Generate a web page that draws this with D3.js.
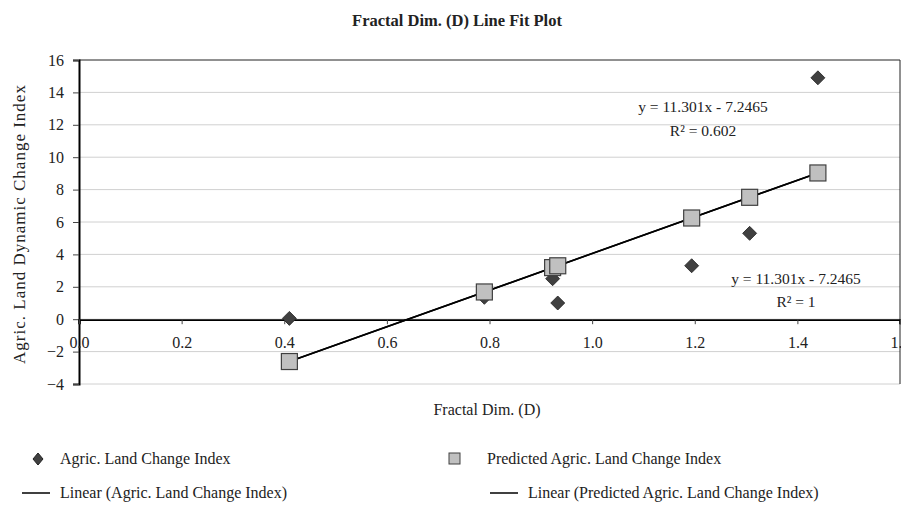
<!DOCTYPE html>
<html>
<head>
<meta charset="utf-8">
<script src="https://cdn.jsdelivr.net/npm/d3@7"></script>
<style>
body { margin: 0; background: #fff; }
text { font-family: "Liberation Serif", "DejaVu Serif", serif; fill: #222; }
</style>
</head>
<body>
<div id="chart"></div>
<script>
// values
var xValues = [0.41, 0.79, 0.923, 0.933, 1.194, 1.307, 1.44];
var actualY = [0.05, 1.35, 2.5, 1.0, 3.3, 5.3, 14.9];
var slope = 11.301, intercept = -7.2465;
var predictedY = xValues.map(function(x) { return slope * x + intercept; });
var xTicks = [0, 0.2, 0.4, 0.6, 0.8, 1.0, 1.2, 1.4, 1.6];
var yTicks = [-4, -2, 0, 2, 4, 6, 8, 10, 12, 14, 16];

var svgWidth = 914, svgHeight = 506;
var plotLeft = 79, plotRight = 900, plotTop = 60, plotBottom = 384;

var svg = d3.select("#chart").append("svg")
    .attr("width", svgWidth)
    .attr("height", svgHeight);

var x = d3.scaleLinear().domain([0, 1.6]).range([plotLeft, plotRight]);
var y = d3.scaleLinear().domain([-4, 16]).range([plotBottom, plotTop]);

svg.append("clipPath").attr("id", "clip")
    .append("rect").attr("x", 0).attr("y", 0).attr("width", plotRight + 1).attr("height", svgHeight);

// title
svg.append("text")
    .attr("x", 457).attr("y", 26)
    .attr("text-anchor", "middle")
    .style("font-size", "16.5px").style("font-weight", "bold")
    .text("Fractal Dim. (D) Line Fit  Plot");

// gridlines
svg.selectAll(".grid")
    .data(yTicks)
    .enter()
    .append("line")
    .attr("x1", plotLeft).attr("x2", plotRight)
    .attr("y1", function(d) { return y(d); })
    .attr("y2", function(d) { return y(d); })
    .attr("stroke", function(d) { return d == 16 ? "#222" : "#d0d0d0"; })
    .attr("stroke-width", 1);

// right border
svg.append("line")
    .attr("x1", plotRight).attr("x2", plotRight)
    .attr("y1", plotTop).attr("y2", plotBottom)
    .attr("stroke", "#222");

// y axis
var yAxis = d3.axisLeft(y).tickValues(yTicks).tickSize(6).tickFormat(function(d) {
    return d < 0 ? "\u2212" + Math.abs(d) : d;
});
var gy = svg.append("g").attr("transform", "translate(" + plotLeft + ",0)").call(yAxis);
gy.select(".domain").attr("stroke", "#000").attr("stroke-width", 2);
gy.selectAll(".tick line").attr("stroke", "#444");
gy.selectAll("text").style("font-size", "16px").style("font-family", "Liberation Serif").attr("fill", "#333").attr("x", -15);

// x axis on zero line
var xAxis = d3.axisBottom(x).tickValues(xTicks).tickSize(5).tickFormat(d3.format(".1f"));
var gx = svg.append("g").attr("transform", "translate(0," + y(0) + ")")
    .attr("clip-path", "url(#clip)")
    .call(xAxis);
gx.select(".domain").attr("stroke", "#000").attr("stroke-width", 2.5);
gx.selectAll(".tick line").attr("stroke", "#444");
gx.selectAll("text").style("font-size", "16px").style("font-family", "Liberation Serif").attr("fill", "#333").attr("dy", "1.3em");

// axis titles
svg.append("text")
    .attr("transform", "translate(25," + ((plotTop + plotBottom) / 2 + 2) + ") rotate(-90)")
    .attr("text-anchor", "middle")
    .style("font-size", "17px")
    .style("letter-spacing", "1px")
    .text("Agric. Land  Dynamic Change Index");

svg.append("text")
    .attr("x", 487).attr("y", 415)
    .attr("text-anchor", "middle")
    .style("font-size", "16px")
    .text("Fractal Dim. (D)");

// trend lines (both fits give the same line)
var xMin = d3.min(xValues), xMax = d3.max(xValues);
[0, 1].forEach(function() {
    svg.append("line")
        .attr("x1", x(xMin)).attr("y1", y(slope * xMin + intercept))
        .attr("x2", x(xMax)).attr("y2", y(slope * xMax + intercept))
        .attr("stroke", "#000").attr("stroke-width", 1.6);
});

// actual points (diamonds)
svg.selectAll(".actual")
    .data(xValues)
    .enter()
    .append("path")
    .attr("d", "M0,-7L7,0L0,7L-7,0Z")
    .attr("transform", function(d, i) { return "translate(" + x(d) + "," + y(actualY[i]) + ")"; })
    .attr("fill", "#404040").attr("stroke", "#222").attr("stroke-width", 0.8);

// predicted points (squares)
svg.selectAll(".pred")
    .data(xValues)
    .enter()
    .append("rect")
    .attr("x", function(d) { return x(d) - 8; })
    .attr("y", function(d, i) { return y(predictedY[i]) - 8; })
    .attr("width", 16).attr("height", 16)
    .attr("fill", "#c0c0c0").attr("stroke", "#404040").attr("stroke-width", 1.2);

// trendline labels
var eq = "y = 11.301x - 7.2465";
svg.append("text").attr("x", 703).attr("y", 112).attr("text-anchor", "middle").style("font-size", "15.5px").text(eq);
svg.append("text").attr("x", 703).attr("y", 136).attr("text-anchor", "middle").style("font-size", "15.5px").text("R\u00b2 = 0.602");
svg.append("text").attr("x", 796).attr("y", 284).attr("text-anchor", "middle").style("font-size", "15.5px").text(eq);
svg.append("text").attr("x", 796).attr("y", 307).attr("text-anchor", "middle").style("font-size", "15.5px").text("R\u00b2 = 1");

// legend
var legend = svg.append("g").style("font-size", "16px");
legend.append("path").attr("d", "M0,-6L5,0L0,6L-5,0Z")
    .attr("transform", "translate(38,459)").attr("fill", "#404040").attr("stroke", "#222");
legend.append("text").attr("x", 60).attr("y", 464).text("Agric. Land Change Index");
legend.append("rect").attr("x", 449).attr("y", 453).attr("width", 11).attr("height", 11)
    .attr("fill", "#c0c0c0").attr("stroke", "#404040");
legend.append("text").attr("x", 487).attr("y", 464).text("Predicted Agric. Land Change Index");
legend.append("line").attr("x1", 22).attr("x2", 50).attr("y1", 493).attr("y2", 493).attr("stroke", "#000").attr("stroke-width", 1.5);
legend.append("text").attr("x", 60).attr("y", 498).text("Linear (Agric. Land Change Index)");
legend.append("line").attr("x1", 490).attr("x2", 518).attr("y1", 493).attr("y2", 493).attr("stroke", "#000").attr("stroke-width", 1.5);
legend.append("text").attr("x", 528).attr("y", 498).text("Linear (Predicted Agric. Land Change Index)");
</script>
</body>
</html>
